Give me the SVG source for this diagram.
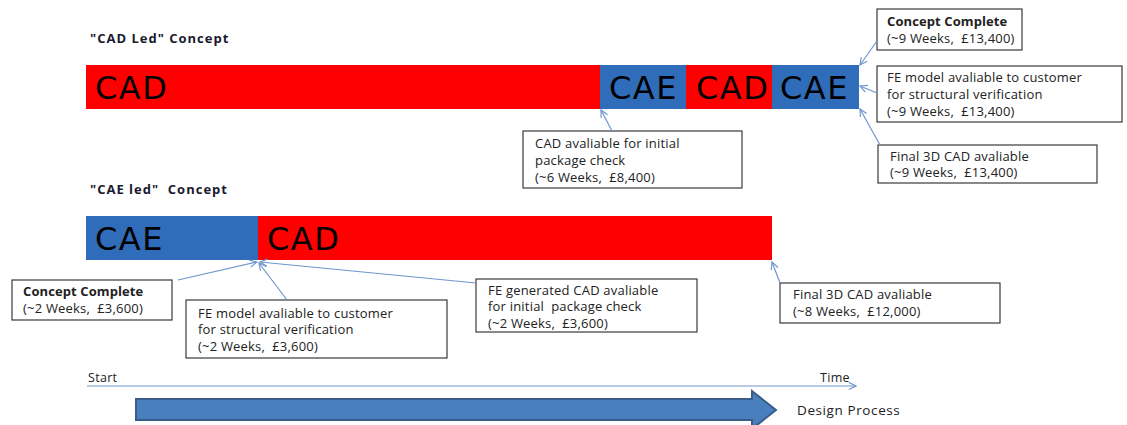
<svg xmlns="http://www.w3.org/2000/svg" width="1127" height="425" viewBox="0 0 1127 425">
<style>
text{white-space:pre}
.title{font-family:"Open Sans","Liberation Sans",sans-serif;font-size:13px;font-weight:bold;fill:#1a1a2e;letter-spacing:1px}
.big{font-family:"DejaVu Sans",Verdana,sans-serif;font-size:32px;fill:#000;letter-spacing:1.5px}
.box{fill:#fff;stroke:#3a3a3a;stroke-width:1.2}
.lbl{font-family:"Open Sans","Liberation Sans",sans-serif;font-size:13px;fill:#222;letter-spacing:0.2px}
.lblb{font-family:"Open Sans","Liberation Sans",sans-serif;font-size:13px;font-weight:bold;fill:#222;letter-spacing:0.1px}
.sm{font-family:"Open Sans","Liberation Sans",sans-serif;font-size:12.5px;fill:#222;letter-spacing:0.3px}
.dp{font-family:"Open Sans","Liberation Sans",sans-serif;font-size:13.5px;fill:#222;letter-spacing:0.6px}
.red{fill:#ff0000}
.blue{fill:#2f6cb9}
.conn{stroke:#6f96cc;stroke-width:1.2;fill:none}
</style>
<defs>
<marker id="oa" viewBox="0 0 10 10" refX="9" refY="5" markerWidth="9" markerHeight="9" orient="auto" markerUnits="userSpaceOnUse">
<path d="M1,1 L9,5 L1,9" fill="none" stroke="#6f96cc" stroke-width="1.3"/>
</marker>
</defs>

<text class="title" x="90" y="43">"CAD Led" Concept</text>
<text class="title" x="90" y="194">"CAE led"  Concept</text>

<g id="bar-cad-led">
<rect class="red" x="86" y="65" width="514" height="44"/>
<rect class="blue" x="600" y="65" width="86" height="44"/>
<rect class="red" x="686" y="65" width="86" height="44"/>
<rect class="blue" x="772" y="65" width="87" height="44"/>
<text class="big" x="95" y="99">CAD</text>
<text class="big" x="609" y="99">CAE</text>
<text class="big" x="696" y="99">CAD</text>
<text class="big" x="780" y="99">CAE</text>
</g>

<g id="bar-cae-led">
<rect class="blue" x="86" y="216" width="172" height="44"/>
<rect class="red" x="258" y="216" width="514" height="44"/>
<text class="big" x="95" y="250">CAE</text>
<text class="big" x="267" y="250">CAD</text>
</g>

<g id="box-top-concept">
<rect class="box" x="877" y="9" width="145" height="41"/>
<text class="lblb" x="887" y="26">Concept Complete</text>
<text class="lbl" x="887" y="43">(~9 Weeks,  £13,400)</text>
</g>
<g id="box-top-fe">
<rect class="box" x="877" y="66" width="245" height="56"/>
<text class="lbl" x="887" y="82">FE model avaliable to customer</text>
<text class="lbl" x="887" y="99">for structural verification</text>
<text class="lbl" x="887" y="116">(~9 Weeks,  £13,400)</text>
</g>
<g id="box-top-final">
<rect class="box" x="878" y="145" width="219" height="38"/>
<text class="lbl" x="890" y="161">Final 3D CAD avaliable</text>
<text class="lbl" x="890" y="177">(~9 Weeks,  £13,400)</text>
</g>
<g id="box-top-cad">
<rect class="box" x="523" y="131" width="219" height="57"/>
<text class="lbl" x="535" y="148">CAD avaliable for initial</text>
<text class="lbl" x="535" y="165">package check</text>
<text class="lbl" x="535" y="182">(~6 Weeks,  £8,400)</text>
</g>

<g id="box-bot-concept">
<rect class="box" x="12" y="280" width="160" height="40"/>
<text class="lblb" x="23" y="296">Concept Complete</text>
<text class="lbl" x="23" y="313">(~2 Weeks,  £3,600)</text>
</g>
<g id="box-bot-fe">
<rect class="box" x="186" y="300" width="261" height="58"/>
<text class="lbl" x="198" y="318">FE model avaliable to customer</text>
<text class="lbl" x="198" y="334">for structural verification</text>
<text class="lbl" x="198" y="351">(~2 Weeks,  £3,600)</text>
</g>
<g id="box-bot-fegen">
<rect class="box" x="476" y="279" width="221" height="53"/>
<text class="lbl" x="488" y="295">FE generated CAD avaliable</text>
<text class="lbl" x="488" y="311">for initial  package check</text>
<text class="lbl" x="488" y="328">(~2 Weeks,  £3,600)</text>
</g>
<g id="box-bot-final">
<rect class="box" x="780" y="283" width="220" height="40"/>
<text class="lbl" x="793" y="299">Final 3D CAD avaliable</text>
<text class="lbl" x="793" y="316">(~8 Weeks,  £12,000)</text>
</g>

<g id="connectors">
<line class="conn" x1="877" y1="41" x2="860" y2="65" marker-end="url(#oa)"/>
<line class="conn" x1="877" y1="93" x2="860" y2="86" marker-end="url(#oa)"/>
<line class="conn" x1="880" y1="145" x2="860" y2="109" marker-end="url(#oa)"/>
<line class="conn" x1="612" y1="131" x2="601" y2="110" marker-end="url(#oa)"/>
<line class="conn" x1="178" y1="280" x2="257" y2="262" marker-end="url(#oa)"/>
<line class="conn" x1="287" y1="300" x2="259" y2="263" marker-end="url(#oa)"/>
<line class="conn" x1="476" y1="283" x2="260" y2="262" marker-end="url(#oa)"/>
<line class="conn" x1="780" y1="283" x2="772" y2="262" marker-end="url(#oa)"/>
<line class="conn" x1="87" y1="386" x2="856" y2="386" marker-end="url(#oa)"/>
</g>

<g id="timeline">
<text class="sm" x="88" y="382">Start</text>
<text class="sm" x="820" y="382">Time</text>
</g>

<g id="design-arrow">
<path d="M136,399 L752,399 L752,391 L776,410 L752,429 L752,420 L136,420 Z" fill="#4a7fbd" stroke="#385d8a" stroke-width="2"/>
<text class="dp" x="797" y="415">Design Process</text>
</g>
</svg>
